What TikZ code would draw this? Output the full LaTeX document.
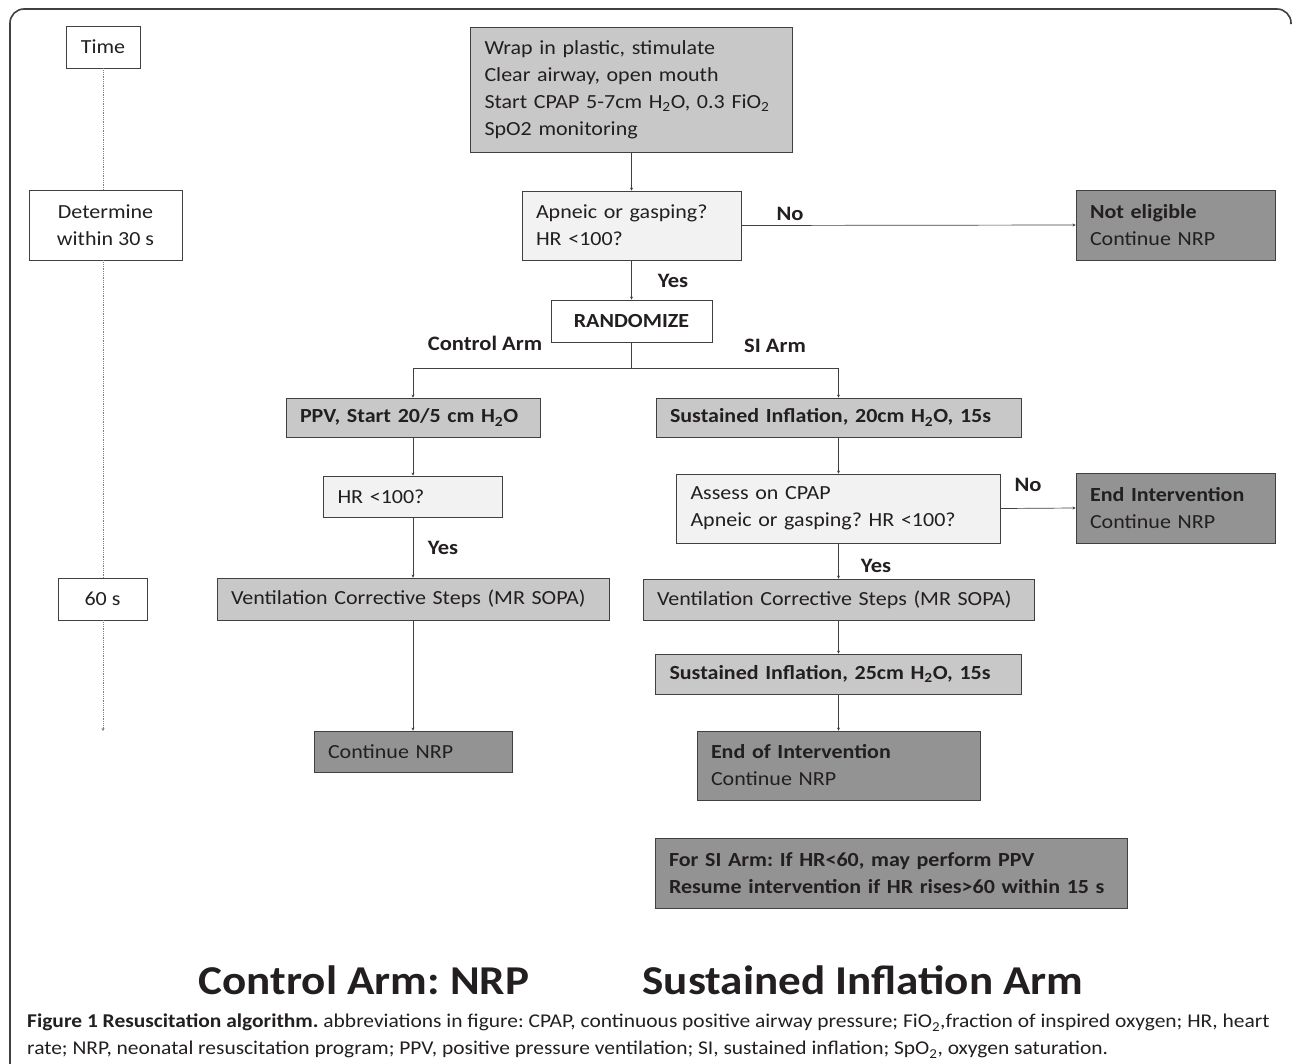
\documentclass[tikz,border=0pt]{standalone}
\usepackage{fontspec}
\setmainfont{Carlito}[FakeStretch=1.1]
\usetikzlibrary{arrows.meta}
\definecolor{lgray}{HTML}{C8C8C8}
\definecolor{vlight}{HTML}{F2F2F2}
\definecolor{dgray}{HTML}{939393}
\definecolor{linec}{HTML}{404040}
\definecolor{textc}{HTML}{231F20}
\newcommand{\sub}[1]{\textsubscript{#1}}
\frenchspacing
\tikzset{
  boxbase/.style={draw=linec, line width=0.9pt, inner sep=0pt, text=textc,
    font=\fontsize{20}{27}\selectfont, anchor=center},
  lbox/.style={boxbase, align=left},
  cbox/.style={boxbase, align=center},
  conn/.style={draw=linec, line width=0.7pt, -{Stealth[length=3pt,width=3pt]}},
  timeline/.style={draw=gray, line width=0.8pt, dash pattern=on 1pt off 0.8pt},
  lbl/.style={font=\fontsize{20.5}{24}\selectfont\bfseries, text=textc, inner sep=0pt},
}
\begin{document}
\frenchspacing
\begin{tikzpicture}[x=1pt,y=-1pt]
\useasboundingbox (0,0) rectangle (1292,1063);
% frame
\draw[linec, line width=1.6pt, rounded corners=14pt] (10,1070) -- (10,9) -- (1291,9) -- (1291,24);

% time column
\node[cbox, minimum width=74, minimum height=42] (time) at (103,47) {Time};
\node[cbox, minimum width=153, minimum height=70] (det) at (105.5,225) {Determine\\within 30 s};
\node[cbox, minimum width=89, minimum height=42] (sixty) at (102.5,599) {60 s};
\coordinate (tend) at (103,731);
\draw[timeline] (time.south) -- (time.south|-det.north);
\draw[timeline] (time.south|-det.south) -- (time.south|-sixty.north);
\draw[timeline, -{Stealth[length=3pt,width=3pt]}] (time.south|-sixty.south) -- (tend);

% main column
\node[lbox, fill=lgray, minimum width=322, minimum height=125, text width=294] (top) at (631.5,89.5)
  {Wrap in plastic, stimulate\\Clear airway, open mouth\\Start CPAP 5-7cm H\sub{2}O, 0.3 FiO\sub{2}\\SpO2 monitoring};
\node[lbox, fill=vlight, minimum width=219, minimum height=69, text width=191] (dec) at (631.5,225.5)
  {Apneic or gasping?\\HR <100?};
\node[lbox, fill=dgray, minimum width=199, minimum height=70, text width=171] (notel) at (1175.5,225)
  {\textbf{Not eligible}\\Continue NRP};
\node[cbox, fill=white, minimum width=161, minimum height=42, font=\fontsize{20}{24}\selectfont\bfseries] (rand) at (631.5,321) {RANDOMIZE};

\draw[conn] (top.south) -- (dec.north);
\draw[conn] (dec.east) -- (notel.west);
\draw[conn] (dec.south) -- (rand.north);
\node[lbl] (lno1) at (790,214) {No};
\node[lbl] (lyes1) at (673,281) {Yes};

% split
\draw[linec, line width=0.7pt] (rand.south) -- ++(0,26) coordinate (split);
\node[lbl, anchor=center] (lctl) at (485,343) {Control Arm};
\node[lbl, anchor=center] (lsi) at (775,346) {SI Arm};

% control arm
\node[lbox, fill=lgray, minimum width=254, minimum height=39, text width=226, font=\fontsize{20}{27}\selectfont\bfseries] (ppv) at (413,417.5)
  {PPV, Start 20/5 cm H\sub{2}O};
\node[lbox, fill=vlight, minimum width=179, minimum height=41, text width=151] (hr) at (413,496.5) {HR <100?};
\node[lbox, fill=lgray, minimum width=392, minimum height=42, text width=364] (ventl) at (413,599)
  {Ventilation Corrective Steps (MR SOPA)};
\node[lbox, fill=dgray, minimum width=198, minimum height=41, text width=170] (contl) at (413,751.5) {Continue NRP};

\draw[conn] (split) -| (ppv.north);
\draw[conn] (ppv.south) -- (hr.north);
\draw[conn] (hr.south) -- (ventl.north);
\draw[conn] (ventl.south) -- (contl.north);
\node[lbl] (lyes2) at (443,548) {Yes};

% SI arm
\node[lbox, fill=lgray, minimum width=365, minimum height=39, text width=337, font=\fontsize{20}{27}\selectfont\bfseries] (si1) at (838.5,417.5)
  {Sustained Inflation, 20cm H\sub{2}O, 15s};
\node[lbox, fill=vlight, minimum width=324, minimum height=69, text width=296] (assess) at (838.5,508.5)
  {Assess on CPAP\\Apneic or gasping? HR <100?};
\node[lbox, fill=dgray, minimum width=199, minimum height=70, text width=171] (endint) at (1175.5,508)
  {\textbf{End Intervention}\\Continue NRP};
\node[lbox, fill=lgray, minimum width=391, minimum height=41, text width=363] (ventr) at (838.5,599.5)
  {Ventilation Corrective Steps (MR SOPA)};
\node[lbox, fill=lgray, minimum width=366, minimum height=40, text width=338, font=\fontsize{20}{27}\selectfont\bfseries] (si2) at (838.5,674)
  {Sustained Inflation, 25cm H\sub{2}O, 15s};
\node[lbox, fill=dgray, minimum width=283, minimum height=69, text width=255] (endof) at (838.5,765.5)
  {\textbf{End of Intervention}\\Continue NRP};
\node[lbox, fill=dgray, minimum width=472, minimum height=70, text width=444, font=\fontsize{20}{27}\selectfont\bfseries] (forsi) at (891,873)
  {For SI Arm: If HR<60, may perform PPV\\Resume intervention if HR rises>60 within 15 s};

\draw[conn] (split) -| (si1.north);
\draw[conn] (si1.south) -- (assess.north);
\draw[conn] (assess.east) -- (endint.west);
\draw[conn] (assess.south) -- (ventr.north);
\draw[conn] (ventr.south) -- (si2.north);
\draw[conn] (si2.south) -- (endof.north);
\node[lbl] (lno2) at (1028,485) {No};
\node[lbl] (lyes3) at (876,566) {Yes};

% titles
\node[font=\fontsize{41}{48}\selectfont\bfseries, text=textc, inner sep=0pt] (t1) at (364,980) {Control Arm: NRP};
\node[font=\fontsize{41}{48}\selectfont\bfseries, text=textc, inner sep=0pt] (t2) at (863,980) {Sustained Inflation Arm};

% caption
\node[anchor=north west, align=left, inner sep=0pt, text=textc, font=\fontsize{19.5}{27}\selectfont] (cap) at (27,1014)
  {\textbf{Figure 1 Resuscitation algorithm.} abbreviations in figure: CPAP, continuous positive airway pressure; FiO\sub{2},fraction of inspired oxygen; HR, heart\\
   rate; NRP, neonatal resuscitation program; PPV, positive pressure ventilation; SI, sustained inflation; SpO\sub{2}, oxygen saturation.};
\end{tikzpicture}
\end{document}
